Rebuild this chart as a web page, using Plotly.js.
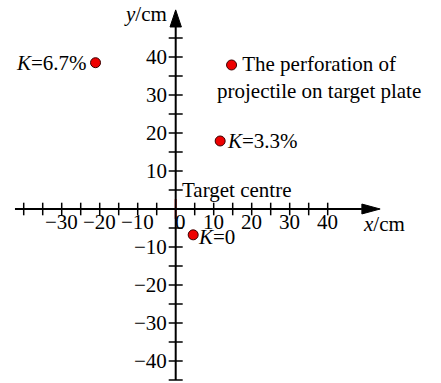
<!DOCTYPE html>
<html>
<head>
<meta charset="utf-8">
<script src="https://cdn.plot.ly/plotly-3.0.1.min.js"></script>
<style>
  html, body { margin: 0; padding: 0; background: #ffffff; }
  #chart { width: 441px; height: 383px; }
</style>
</head>
<body>
<div id="chart"></div>
<script>
// ---------- data ----------
const pointNames = ['K=6.7%', 'The perforation of projectile on target plate', 'K=3.3%', 'K=0'];
const pointX = [-21.1, 14.7, 11.7, 4.6];
const pointY = [38.5, 37.9, 17.9, -6.8];

const xTickVals = [-40, -35, -30, -25, -20, -15, -10, -5, 5, 10, 15, 20, 25, 30, 35, 40];
const yTickVals = [45, 40, 35, 30, 25, 20, 15, 10, 5, -5, -10, -15, -20, -25, -30, -35, -40, -45];
const xLabelVals = [-30, -20, -10, 0, 10, 20, 30, 40];
const xLabelText = ['\u221230', '\u221220', '\u221210', '0', '10', '20', '30', '40'];
const yLabelVals = [40, 30, 20, 10, -10, -20, -30, -40];
const yLabelText = ['40', '30', '20', '10', '\u221210', '\u221220', '\u221230', '\u221240'];

// axis extents (cm)
const xAxisStart = -42.3, xArrowBase = 49.0, xArrowTip = 53.8;
const yAxisStart = -45.0, yArrowBase = 47.9, yArrowTip = 52.4;
const centreArm = 2.6;

const FONT = 'Liberation Serif, Times New Roman, serif';
const FS = 21;

// ---------- traces ----------
const traces = [
  { // x ticks
    type: 'scatter', mode: 'markers', x: xTickVals, y: xTickVals.map(() => 0),
    marker: { symbol: 'line-ns', size: 9, line: { width: 1.5, color: '#000' } },
    hoverinfo: 'skip', showlegend: false, cliponaxis: false
  },
  { // y ticks
    type: 'scatter', mode: 'markers', x: yTickVals.map(() => 0), y: yTickVals,
    marker: { symbol: 'line-ew', size: 10, line: { width: 1.5, color: '#000' } },
    hoverinfo: 'skip', showlegend: false, cliponaxis: false
  },
  { // target centre cross
    type: 'scatter', mode: 'lines',
    x: [-centreArm, centreArm, null, 0, 0], y: [0, 0, null, -centreArm, centreArm],
    line: { color: '#e0201e', width: 2 }, hoverinfo: 'skip', showlegend: false
  },
  { // perforation points
    type: 'scatter', mode: 'markers', x: pointX, y: pointY, text: pointNames,
    marker: { size: 10, color: '#ee0000', line: { width: 1, color: '#3a0000' } },
    showlegend: false, cliponaxis: false
  }
];

// ---------- annotations ----------
const ann = [];
xLabelVals.forEach((v, i) => {
  ann.push({ x: v, y: 0, xref: 'x', yref: 'y', text: xLabelText[i], showarrow: false,
    xanchor: 'center', yanchor: 'middle', xshift: v === 0 ? 5 : 0, yshift: -13,
    font: { family: FONT, size: FS, color: '#000' } });
});
yLabelVals.forEach((v, i) => {
  ann.push({ x: 0, y: v, xref: 'x', yref: 'y', text: yLabelText[i], showarrow: false,
    xanchor: 'right', yanchor: 'middle', xshift: -7,
    font: { family: FONT, size: FS, color: '#000' } });
});
const lab = (o) => Object.assign({ xref: 'x', yref: 'y', showarrow: false,
  font: { family: FONT, size: FS, color: '#000' } }, o);
ann.push(lab({ x: pointX[0], y: pointY[0], text: '<i>K</i>=6.7%', xanchor: 'right', yanchor: 'middle', xshift: -7 }));
ann.push(lab({ x: pointX[1], y: pointY[1], text: 'The perforation of<br>projectile on target plate',
  xanchor: 'left', yanchor: 'middle', align: 'center', xshift: -17, yshift: -13 }));
ann.push(lab({ x: pointX[2], y: pointY[2], text: '<i>K</i>=3.3%', xanchor: 'left', yanchor: 'middle', xshift: 5 }));
ann.push(lab({ x: pointX[3], y: pointY[3], text: '<i>K</i>=0', xanchor: 'left', yanchor: 'middle', xshift: 3, yshift: -2 }));
ann.push(lab({ x: 0, y: 0, text: 'Target centre', xanchor: 'left', yanchor: 'middle', xshift: 4, yshift: 19 }));
ann.push(lab({ x: 0, y: yArrowTip, text: '<i>y</i>/cm', xanchor: 'right', yanchor: 'middle', xshift: -7, yshift: -4 }));
ann.push(lab({ x: xArrowBase, y: 0, text: '<i>x</i>/cm', xanchor: 'left', yanchor: 'middle', xshift: -1, yshift: -15 }));

// ---------- shapes (axes + arrows) ----------
const shapes = [
  { type: 'line', xref: 'x', yref: 'y', x0: xAxisStart, x1: xArrowBase, y0: 0, y1: 0, line: { color: '#000', width: 2 } },
  { type: 'line', xref: 'x', yref: 'y', x0: 0, x1: 0, y0: yAxisStart, y1: yArrowBase, line: { color: '#000', width: 2 } },
  { type: 'path', xref: 'x', yref: 'y', fillcolor: '#000', line: { color: '#000', width: 1 },
    path: `M ${xArrowBase} -1.3 L ${xArrowTip} 0 L ${xArrowBase} 1.3 Z` },
  { type: 'path', xref: 'x', yref: 'y', fillcolor: '#000', line: { color: '#000', width: 1 },
    path: `M -1.5 ${yArrowBase} L 0 ${yArrowTip} L 1.5 ${yArrowBase} Z` }
];

// x pixel = 175.7 + 3.8*x ; y pixel = 209 - 3.8*y
const layout = {
  width: 441, height: 383,
  margin: { l: 0, r: 0, t: 0, b: 0, pad: 0 },
  paper_bgcolor: '#ffffff', plot_bgcolor: '#ffffff',
  xaxis: { visible: false, range: [-46.24, 69.82], fixedrange: true },
  yaxis: { visible: false, range: [-45.79, 55.0], fixedrange: true },
  showlegend: false,
  annotations: ann,
  shapes: shapes,
  font: { family: FONT }
};

Plotly.newPlot('chart', traces, layout, { staticPlot: true, displayModeBar: false });
</script>
</body>
</html>
